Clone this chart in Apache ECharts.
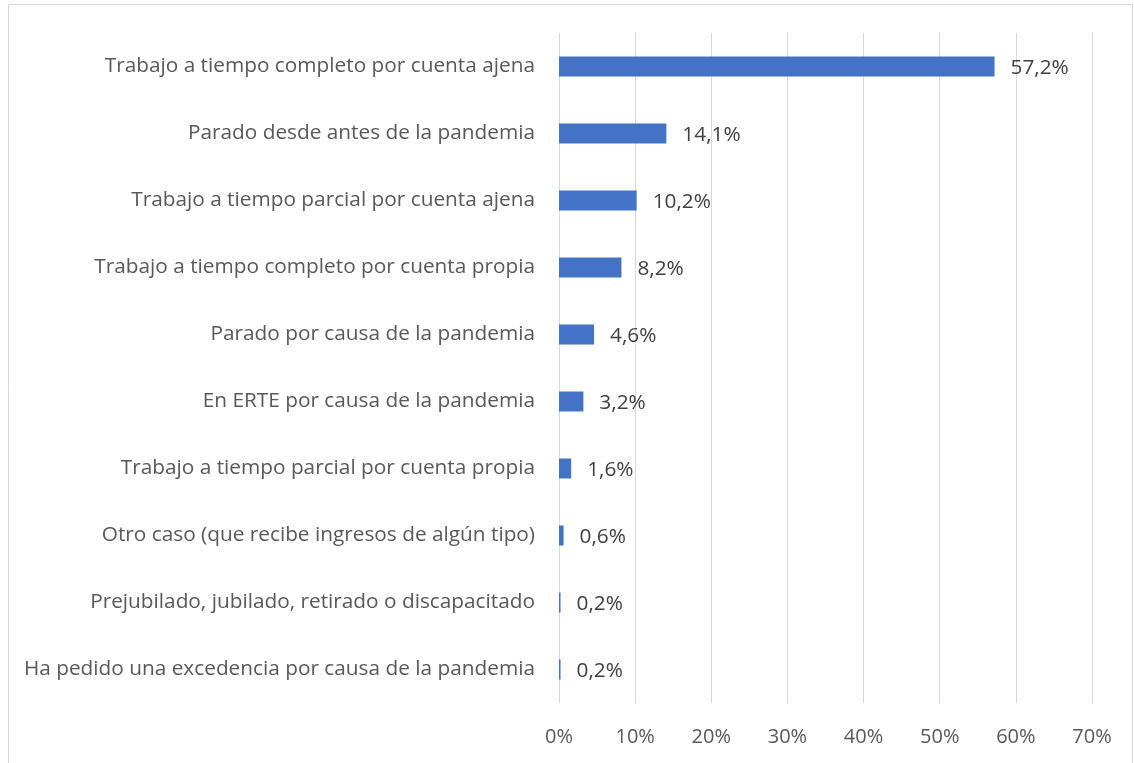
<!DOCTYPE html>
<html>
<head>
<meta charset="utf-8">
<script src="https://cdn.jsdelivr.net/npm/echarts@6/dist/echarts.min.js"></script>
<style>
  html, body { margin: 0; padding: 0; background: #fff; }
  #main { width: 1134px; height: 763px; }
</style>
</head>
<body>
<div id="main"></div>
<script>
var myChart = echarts.init(document.getElementById('main'));

// categorias (de arriba a abajo) y porcentajes
var categorias = [
  'Trabajo a tiempo completo por cuenta ajena',
  'Parado desde antes de la pandemia',
  'Trabajo a tiempo parcial por cuenta ajena',
  'Trabajo a tiempo completo por cuenta propia',
  'Parado por causa de la pandemia',
  'En ERTE por causa de la pandemia',
  'Trabajo a tiempo parcial por cuenta propia',
  'Otro caso (que recibe ingresos de algún tipo)',
  'Prejubilado, jubilado, retirado o discapacitado',
  'Ha pedido una excedencia por causa de la pandemia'
];
var valores = [57.2, 14.1, 10.2, 8.2, 4.6, 3.2, 1.6, 0.6, 0.2, 0.2];
var ticks = [0, 10, 20, 30, 40, 50, 60, 70];

var fuente = '"Open Sans", "Noto Sans", sans-serif';

var option = {
  animation: false,
  backgroundColor: '#fff',
  graphic: [{
    type: 'rect',
    shape: { x: 8.5, y: 4.5, width: 1124, height: 760 },
    style: { fill: 'none', stroke: '#d9d9d9', lineWidth: 1 },
    silent: true
  }],
  grid: {
    left: 559,
    right: 42,
    top: 33,
    bottom: 60,
    containLabel: false
  },
  xAxis: {
    type: 'value',
    min: ticks[0],
    max: ticks[ticks.length - 1],
    interval: 10,
    axisLine: { show: false },
    axisTick: { show: false },
    splitLine: { lineStyle: { color: '#d9d9d9', width: 1 } },
    axisLabel: {
      color: '#595959',
      fontFamily: fuente,
      fontSize: 20,
      margin: 24,
      formatter: function (v) { return v + '%'; }
    }
  },
  yAxis: {
    type: 'category',
    data: categorias,
    inverse: true,
    axisLine: { show: false },
    axisTick: { show: false },
    splitLine: { show: false },
    axisLabel: {
      color: '#595959',
      fontFamily: fuente,
      fontSize: 20.8,
      margin: 24
    }
  },
  series: [{
    type: 'bar',
    data: valores,
    barWidth: 20,
    itemStyle: { color: '#4472C4' },
    label: {
      show: true,
      position: 'right',
      distance: 16,
      color: '#404040',
      fontFamily: fuente,
      fontSize: 20.8,
      offset: [0, 2],
      formatter: function (p) { return p.value.toFixed(1).replace('.', ',') + '%'; }
    }
  }]
};

myChart.setOption(option);
</script>
</body>
</html>
